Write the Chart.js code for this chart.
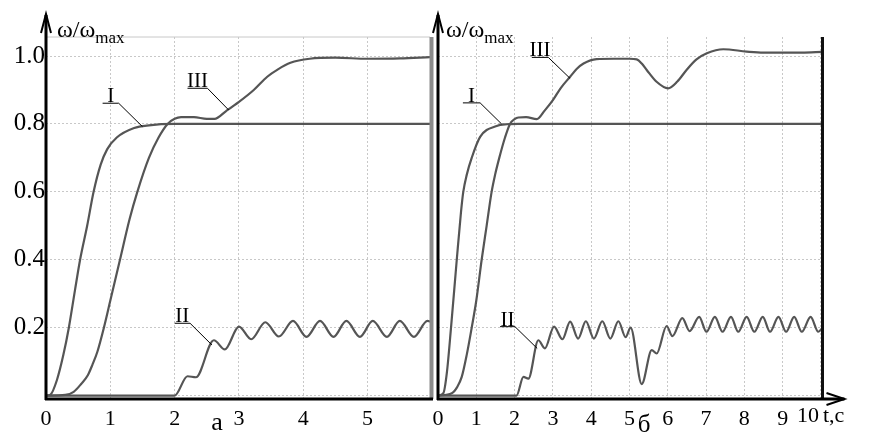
<!DOCTYPE html>
<html>
<head>
<meta charset="utf-8">
<script src="https://cdn.jsdelivr.net/npm/chart.js@4.4.1/dist/chart.umd.min.js"></script>
<style>
  html, body { margin: 0; padding: 0; background: #fff; }
  #wrap { position: relative; width: 877px; height: 447px; overflow: hidden; }
  canvas { position: absolute; top: 0; }
</style>
</head>
<body>
<div id="wrap">
  <canvas id="chartA" width="440" height="447" style="left:0px"></canvas>
  <canvas id="chartB" width="467" height="447" style="left:410px"></canvas>
</div>
<script>
// ---- panel "а" ----
const tA_I = [0, 0.07, 0.17, 0.27, 0.355, 0.45, 0.53, 0.64, 0.74, 0.85, 0.95, 1.1, 1.37, 1.6, 2.0, 5.97];
const wA_I = [0, 0.003, 0.046, 0.12, 0.2, 0.31, 0.4, 0.5, 0.6, 0.68, 0.725, 0.76, 0.788, 0.796, 0.8, 0.8];

const tA_II = [0, 2.0, 2.2, 2.33, 2.61, 2.78, 3.0, 3.19, 3.41, 3.62, 3.84, 4.05, 4.26, 4.47, 4.67, 4.88, 5.08, 5.3, 5.5, 5.72, 5.93, 5.97];
const wA_II = [0, 0, 0.057, 0.054, 0.163, 0.136, 0.203, 0.166, 0.216, 0.174, 0.22, 0.173, 0.22, 0.173, 0.22, 0.173, 0.22, 0.173, 0.22, 0.173, 0.22, 0.218];

const tA_III = [0, 0.3, 0.43, 0.55, 0.65, 0.72, 0.8, 0.9, 1.0, 1.15, 1.3, 1.42, 1.6, 1.75, 1.89, 2.0, 2.1, 2.3, 2.5, 2.62, 2.8, 3.0, 3.23, 3.44, 3.6, 3.8, 4.1, 4.5, 5.0, 5.5, 5.97];
const wA_III = [0, 0.002, 0.011, 0.035, 0.06, 0.09, 0.13, 0.2, 0.28, 0.4, 0.52, 0.6, 0.7, 0.76, 0.8, 0.815, 0.82, 0.82, 0.815, 0.815, 0.838, 0.865, 0.9, 0.939, 0.96, 0.98, 0.992, 0.995, 0.992, 0.993, 0.997];

// ---- panel "б" ----
const tB_I = [0, 0.14, 0.23, 0.34, 0.49, 0.6, 0.66, 0.75, 0.88, 1.1, 1.53, 1.8, 2.1, 10.04];
const wB_I = [0, 0.007, 0.066, 0.2, 0.4, 0.54, 0.6, 0.65, 0.7, 0.762, 0.794, 0.799, 0.8, 0.8];

const tB_II = [0, 2.05, 2.23, 2.36, 2.62, 2.79, 3.03, 3.25, 3.45, 3.66, 3.86, 4.07, 4.29, 4.5, 4.71, 4.9, 5.03, 5.32, 5.58, 5.71, 5.97, 6.12, 6.38, 6.57, 6.82, 7.01, 7.23, 7.43, 7.65, 7.84, 8.06, 8.26, 8.48, 8.67, 8.89, 9.09, 9.3, 9.5, 9.73, 9.93, 10.04];
const wB_II = [0, 0, 0.055, 0.05, 0.163, 0.139, 0.203, 0.166, 0.218, 0.168, 0.219, 0.168, 0.219, 0.168, 0.219, 0.172, 0.2, 0.034, 0.134, 0.124, 0.205, 0.175, 0.228, 0.19, 0.232, 0.188, 0.232, 0.188, 0.232, 0.188, 0.232, 0.188, 0.232, 0.188, 0.232, 0.188, 0.232, 0.188, 0.232, 0.188, 0.2];

const tB_III = [0, 0.36, 0.5, 0.62, 0.75, 0.88, 1.0, 1.14, 1.27, 1.4, 1.49, 1.6, 1.75, 1.88, 2.0, 2.1, 2.3, 2.58, 2.79, 3.0, 3.2, 3.45, 3.62, 3.8, 4.14, 4.6, 5.0, 5.19, 5.32, 5.45, 5.7, 6.01, 6.25, 6.49, 6.75, 7.02, 7.45, 8.06, 8.5, 9.0, 9.5, 10.04];
const wB_III = [0, 0.007, 0.025, 0.055, 0.12, 0.2, 0.28, 0.4, 0.5, 0.6, 0.65, 0.7, 0.76, 0.8, 0.814, 0.819, 0.82, 0.814, 0.84, 0.87, 0.905, 0.939, 0.962, 0.978, 0.991, 0.992, 0.992, 0.99, 0.978, 0.959, 0.925, 0.905, 0.925, 0.959, 0.99, 1.008, 1.02, 1.013, 1.01, 1.01, 1.01, 1.012];

// ticks
const xTicksA = [0, 1, 2, 3, 4, 5];
const xTicksB = [0, 1, 2, 3, 4, 5, 6, 7, 8, 9, 10];
const yTicks = [0, 0.2, 0.4, 0.6, 0.8, 1.0];

const serif = '"Liberation Serif", "DejaVu Serif", serif';
const curveColor = '#555';

function pts(t, w) {
  return t.map((v, i) => ({ x: v, y: w[i] }));
}

function curve(t, w) {
  return {
    data: pts(t, w),
    borderColor: curveColor,
    borderWidth: 2.2,
    pointRadius: 0,
    fill: false,
    cubicInterpolationMode: 'monotone'
  };
}

function stroke(ctx, list, width, color) {
  ctx.beginPath();
  ctx.moveTo(list[0][0], list[0][1]);
  for (let i = 1; i < list.length; i++) ctx.lineTo(list[i][0], list[i][1]);
  ctx.lineWidth = width;
  ctx.strokeStyle = color;
  ctx.stroke();
}

// axes, arrows, captions and leader lines
function decor(cfg) {
  return {
    id: 'decor',
    afterDraw(chart) {
      const { ctx, chartArea: a, scales: { x, y } } = chart;
      const X = v => x.getPixelForValue(v);
      const Y = v => y.getPixelForValue(v);
      ctx.save();

      if (cfg.topLine) stroke(ctx, [[a.left, a.top], [a.right, a.top]], 1, '#c8c8c8');
      stroke(ctx, [[a.right + cfg.rightShift, a.top], [a.right + cfg.rightShift, a.bottom]], cfg.rightWidth, cfg.rightColor);

      // y axis with arrow
      stroke(ctx, [[a.left, a.bottom + 1], [a.left, 15]], 3, '#000');
      stroke(ctx, [[a.left - 5, 33], [a.left, 14], [a.left + 5, 33]], 2, '#000');
      // x axis
      stroke(ctx, [[a.left - 1, a.bottom], [cfg.xEnd(a), a.bottom]], 3, '#000');
      if (cfg.xArrow) {
        const e = cfg.xEnd(a);
        stroke(ctx, [[e - 18, a.bottom - 6], [e, a.bottom], [e - 18, a.bottom + 6]], 2, '#000');
      }

      // curve tags
      ctx.font = '21px ' + serif;
      ctx.fillStyle = '#000';
      ctx.textAlign = 'center';
      ctx.textBaseline = 'alphabetic';
      cfg.tags.forEach(tg => {
        const x0 = X(tg.u[0]), x1 = X(tg.u[1]), yy = Y(tg.u[2]);
        stroke(ctx, [[x0, yy], [x1, yy], [X(tg.end[0]), Y(tg.end[1])]], 1, '#000');
        ctx.fillText(tg.text, (x0 + x1) / 2, yy - 1);
      });

      // axis title  ω/ω_max
      ctx.textAlign = 'left';
      ctx.font = '24px ' + serif;
      const tx = a.left + cfg.titleDx;
      ctx.fillText('ω/ω', tx, 37);
      const w = ctx.measureText('ω/ω').width;
      ctx.font = '17px ' + serif;
      ctx.fillText('max', tx + w, 43);

      // panel letter
      ctx.textAlign = 'center';
      ctx.font = cfg.letterSize + 'px ' + serif;
      ctx.fillText(cfg.letter, X(cfg.letterAt), cfg.letterY);

      if (cfg.tLabel) {
        ctx.font = '22px ' + serif;
        ctx.textAlign = 'right';
        ctx.fillText('10', X(10) - 2, 422);
        ctx.textAlign = 'left';
        ctx.fillText('t,с', X(10) + 2, 422);
      }
      ctx.restore();
    }
  };
}

function makeChart(id, sets, xMax, xTicks, padRight, yWidth, showY, xLabel, plugin) {
  return new Chart(document.getElementById(id), {
    type: 'line',
    data: { datasets: sets },
    options: {
      responsive: false,
      animation: false,
      devicePixelRatio: 1,
      layout: { padding: { top: 37, right: padRight, left: 0, bottom: 0 } },
      plugins: { legend: { display: false }, tooltip: { enabled: false } },
      scales: {
        x: {
          type: 'linear',
          min: 0,
          max: xMax,
          afterBuildTicks: s => { s.ticks = xTicks.map(v => ({ value: v })); },
          afterFit: s => { s.height = 48; },
          grid: { color: '#c8c8c8', lineWidth: 1, drawTicks: false },
          border: { display: false, dash: [2, 2] },
          ticks: {
            padding: 7,
            maxRotation: 0,
            autoSkip: false,
            color: '#000',
            font: { family: serif, size: 22 },
            callback: xLabel
          }
        },
        y: {
          min: -0.01,
          max: 1.056,
          afterBuildTicks: s => { s.ticks = yTicks.map(v => ({ value: v })); },
          afterFit: s => { s.width = yWidth; },
          grid: { color: '#c8c8c8', lineWidth: 1, drawTicks: false },
          border: { display: false, dash: [2, 2] },
          ticks: {
            display: showY,
            padding: 1,
            color: '#000',
            font: { family: serif, size: 25 },
            callback: v => (v === 0 ? '' : v.toFixed(1))
          }
        }
      }
    },
    plugins: [plugin]
  });
}

makeChart('chartA',
  [curve(tA_I, wA_I), curve(tA_II, wA_II), curve(tA_III, wA_III)],
  5.97, xTicksA, 10, 46, true, v => String(v),
  decor({
    topLine: true, rightShift: 1.5, rightWidth: 4, rightColor: '#8a8a8a',
    xEnd: a => a.right + 3, xArrow: false,
    tags: [
      { text: 'I', u: [0.88, 1.13, 0.861], end: [1.5, 0.792] },
      { text: 'III', u: [2.2, 2.51, 0.905], end: [2.84, 0.841] },
      { text: 'II', u: [2.0, 2.24, 0.213], end: [2.58, 0.149] }
    ],
    titleDx: 11, letter: 'а', letterAt: 2.66, letterY: 430, letterSize: 26, tLabel: false
  }));

makeChart('chartB',
  [curve(tB_I, wB_I), curve(tB_II, wB_II), curve(tB_III, wB_III)],
  10.04, xTicksB, 54.5, 28, false, v => (v === 10 ? '' : String(v)),
  decor({
    topLine: false, rightShift: 0, rightWidth: 3, rightColor: '#111',
    xEnd: a => a.right + 22, xArrow: true,
    tags: [
      { text: 'I', u: [0.65, 1.1, 0.862], end: [1.66, 0.8] },
      { text: 'III', u: [2.45, 2.88, 0.996], end: [3.45, 0.934] },
      { text: 'II', u: [1.62, 2.01, 0.203], end: [2.59, 0.139] }
    ],
    titleDx: 8, letter: 'б', letterAt: 5.38, letterY: 432, letterSize: 25, tLabel: true
  }));
</script>
</body>
</html>
